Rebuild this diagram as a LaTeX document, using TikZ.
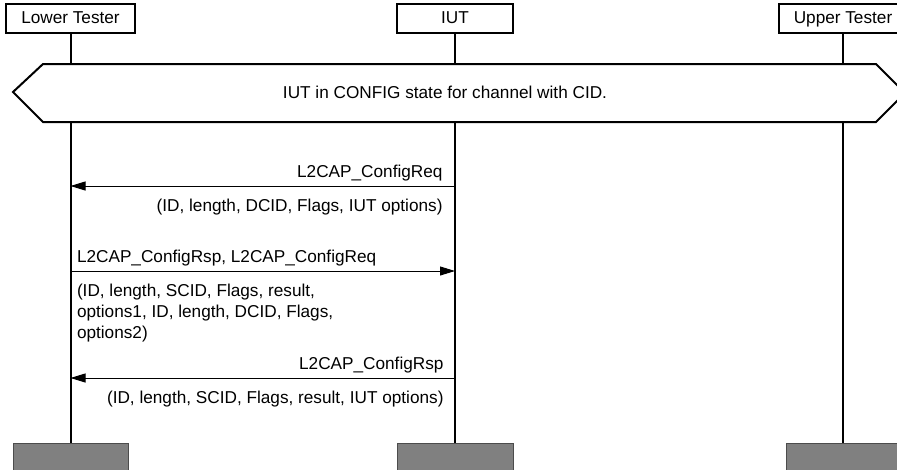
\documentclass[tikz,border=0pt]{standalone}
\usepackage{fontspec}
\setmainfont{Liberation Sans}
\usetikzlibrary{arrows.meta,positioning}

\begin{document}
\begin{tikzpicture}[x=1pt, y=-1pt, font=\fontsize{17.2}{21}\selectfont,
		actor/.style = {draw, line width=1.6pt, minimum height=29pt, inner sep=0pt, text height=12.5pt, text depth=3.5pt},
		stopbox/.style = {draw=black!70, fill=black!50, line width=1pt, minimum height=40pt, inner sep=0pt, anchor=north},
		life/.style = {line width=2pt},
		msg/.style = {line width=1pt, -{Triangle[length=15pt,width=9pt]}},
		lbl/.style = {inner sep=0pt, align=left}]
		\useasboundingbox (0,0) rectangle (897,469);
		\node[actor, minimum width=129pt] (lt) at (70.5,18.5) {Lower Tester};
		\node[actor, minimum width=116pt] (iut) at (455,18.5) {IUT};
		\node[actor, minimum width=128pt] (ut) at (843,18.5) {Upper Tester};
		
		\coordinate (bottom) at (0,443);
		\node[stopbox, minimum width=115pt] (lt_end) at (lt |- bottom) {};
		\node[stopbox, minimum width=116pt] (iut_end) at (iut |- bottom) {};
		\node[stopbox, minimum width=114pt] (ut_end) at (ut |- bottom) {};
		
		\draw[life] (lt) -- (lt_end) (iut) -- (iut_end) (ut) -- (ut_end);
		
		% condition
		\draw[life, fill=white] (13,92) -- (43,64) -- (876,64) -- (905,93) -- (876,122) -- (43,122) -- cycle;
		\node (state) at (445,92) {IUT in CONFIG state for channel with CID.};
		
		\coordinate (m1) at (0,186);
		\coordinate (m2) at (0,271);
		\coordinate (m3) at (0,378);
		
		\draw[msg] (iut |- m1) -- (lt |- m1)
		node[lbl, pos=0, anchor=base east, xshift=-12pt, yshift=9pt] {L2CAP\_ConfigReq}
		node[lbl, pos=0, anchor=base east, xshift=-12pt, yshift=-25pt] {(ID, length, DCID, Flags, IUT options)};
		\draw[msg] (lt |- m2) -- (iut |- m2)
		node[lbl, pos=0, anchor=base west, xshift=6pt, yshift=9pt] {L2CAP\_ConfigRsp, L2CAP\_ConfigReq}
		node[lbl, pos=0, anchor=north west, xshift=6pt, yshift=-12.5pt] {(ID, length, SCID, Flags, result,\\ options1, ID, length, DCID, Flags,\\ options2)};
		\draw[msg] (iut |- m3) -- (lt |- m3)
		node[lbl, pos=0, anchor=base east, xshift=-11pt, yshift=9pt] {L2CAP\_ConfigRsp}
		node[lbl, pos=0, anchor=base east, xshift=-11pt, yshift=-25pt] {(ID, length, SCID, Flags, result, IUT options)};
		
\end{tikzpicture}
\end{document}
